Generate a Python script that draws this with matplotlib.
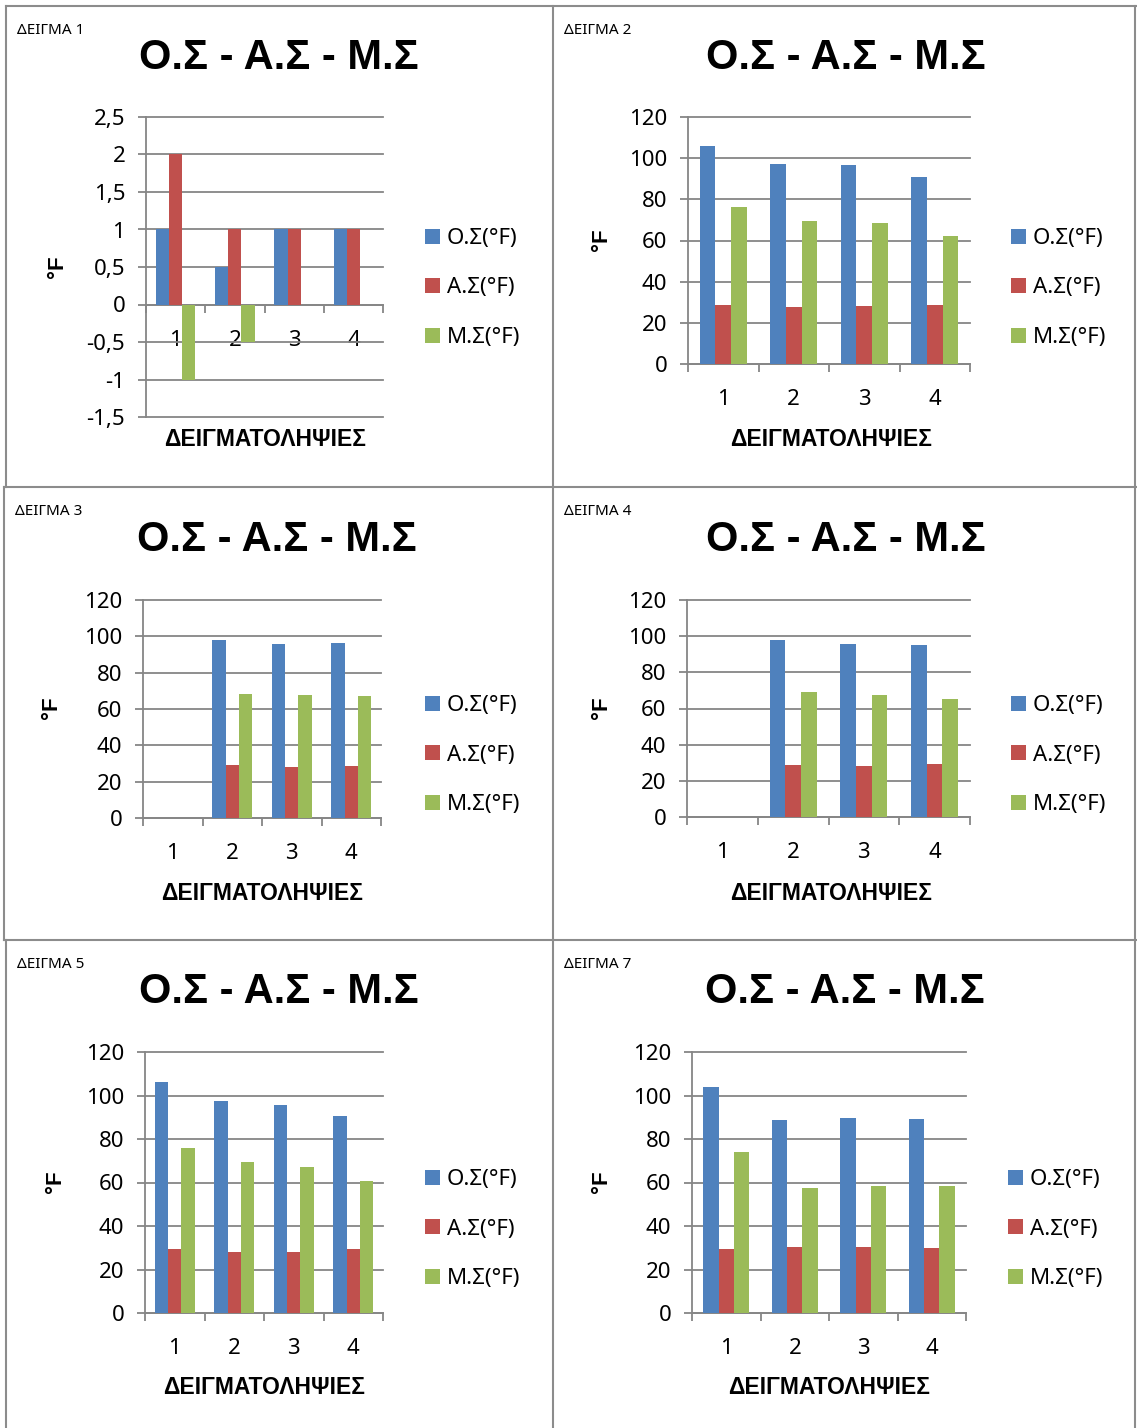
import matplotlib.pyplot as plt
import numpy as np
from matplotlib.lines import Line2D
from matplotlib.ticker import FuncFormatter

plt.rcParams['font.family'] = ['Noto Sans', 'DejaVu Sans']
BOLD = ['Liberation Sans', 'DejaVu Sans']
NARROW = ['Liberation Sans Narrow', 'Noto Sans', 'DejaVu Sans']

W, H = 1137, 1428

samples = ['1', '2', '3', '4']
series = ['Ο.Σ(°F)', 'Α.Σ(°F)', 'Μ.Σ(°F)']
colors = ['#4F81BD', '#C0504D', '#9BBB59']
title = 'Ο.Σ - Α.Σ - Μ.Σ'
xlab = 'ΔΕΙΓΜΑΤΟΛΗΨΙΕΣ'
ylab = '°F'

# values (sample 1 missing in 3 and 4)
os_1 = [1, 0.5, 1, 1]
as_1 = [2, 1, 1, 1]
ms_1 = [-1, -0.5, 0, 0]

os_2 = [105.8, 97.4, 96.7, 91.0]
as_2 = [28.8, 27.5, 28.0, 28.5]
ms_2 = [76.5, 69.5, 68.4, 62.3]

os_3 = [0, 98.0, 95.8, 96.4]
as_3 = [0, 29.4, 27.9, 28.8]
ms_3 = [0, 68.3, 67.9, 67.2]

os_4 = [0, 97.9, 95.7, 94.9]
as_4 = [0, 28.8, 28.2, 29.1]
ms_4 = [0, 68.9, 67.3, 65.4]

os_5 = [106.0, 97.7, 95.7, 90.8]
as_5 = [29.5, 28.2, 28.0, 29.2]
ms_5 = [75.8, 69.2, 67.2, 60.9]

os_7 = [104.0, 88.6, 89.5, 89.1]
as_7 = [29.5, 30.5, 30.5, 30.0]
ms_7 = [74.0, 57.7, 58.6, 58.6]

panels = [
    ('ΔΕΙΓΜΑ 1', (os_1, as_1, ms_1), (-1.5, 2.5, 0.5)),
    ('ΔΕΙΓΜΑ 2', (os_2, as_2, ms_2), (0, 120, 20)),
    ('ΔΕΙΓΜΑ 3', (os_3, as_3, ms_3), (0, 120, 20)),
    ('ΔΕΙΓΜΑ 4', (os_4, as_4, ms_4), (0, 120, 20)),
    ('ΔΕΙΓΜΑ 5', (os_5, as_5, ms_5), (0, 120, 20)),
    ('ΔΕΙΓΜΑ 7', (os_7, as_7, ms_7), (0, 120, 20)),
]

# pixel layout: axes (l, r, t, b), legend left/center y, title, tag, xlabel, ylabel
layout = [
    dict(ax=(146, 383, 117, 417), leg=(425, 288), tit=(279, 58), tag=(17, 30), xl=(265, 439), yl=(57, 267)),
    dict(ax=(688, 970, 117, 364), leg=(1011, 288), tit=(846, 58), tag=(564, 30), xl=(831, 439), yl=(601, 240)),
    dict(ax=(143, 381, 600, 818), leg=(425, 755), tit=(277, 540), tag=(15, 511), xl=(262, 893), yl=(52, 708)),
    dict(ax=(687, 970, 600, 817), leg=(1011, 755), tit=(846, 540), tag=(564, 511), xl=(831, 893), yl=(601, 708)),
    dict(ax=(145, 383, 1052, 1313), leg=(425, 1229), tit=(279, 992), tag=(17, 965), xl=(264, 1388), yl=(55, 1182)),
    dict(ax=(692, 966, 1052, 1313), leg=(1008, 1229), tit=(845, 992), tag=(564, 965), xl=(829, 1388), yl=(601, 1182)),
]


def fx(px):
    return px / W


def fy(py):
    return 1 - py / H


fig = plt.figure(figsize=(W / 100, H / 100), dpi=100)
grey = '#868686'

for (tag, vals, (lo, hi, step)), lay in zip(panels, layout):
    l, r, t, b = lay['ax']
    ax = fig.add_axes([fx(l), fy(b), (r - l) / W, (b - t) / H])
    x = np.arange(len(samples))
    w = 0.222
    for i, (v, c, lab) in enumerate(zip(vals, colors, series)):
        ax.bar(x + (i - 1) * w, v, w, color=c, label=lab, zorder=3)
    ax.set_xlim(-0.5, len(samples) - 0.5)
    ax.set_ylim(lo, hi)
    ax.set_yticks(np.arange(lo, hi + step / 2, step))
    ax.yaxis.set_major_formatter(FuncFormatter(lambda v, p: f'{v:g}'.replace('.', ',')))
    ax.grid(axis='y', color=grey, lw=1.3, zorder=0)
    for gl in ax.get_ygridlines():
        gl.set_clip_on(False)
    ax.set_axisbelow(True)
    for s in ['top', 'right']:
        ax.spines[s].set_visible(False)
    ax.spines['left'].set_color(grey)
    ax.spines['left'].set_linewidth(1.3)
    ax.spines['bottom'].set_color(grey)
    ax.spines['bottom'].set_linewidth(1.3)
    ax.spines['bottom'].set_position(('data', 0))
    ax.set_xticks(x)
    ax.set_xticklabels(samples)
    ax.set_xticks(np.arange(-0.5, len(samples)), minor=True)
    ax.tick_params(axis='x', which='major', length=0, pad=18, labelsize=16)
    ax.tick_params(axis='x', which='minor', length=6, width=1.3, color=grey, direction='out')
    ax.tick_params(axis='y', length=6, width=1.3, color=grey, direction='out', pad=9, labelsize=16)

    ax.legend(loc='center left', bbox_to_anchor=(fx(lay['leg'][0]), fy(lay['leg'][1])),
              bbox_transform=fig.transFigure, frameon=False, fontsize=16,
              handlelength=0.68, handleheight=0.68, handletextpad=0.3,
              labelspacing=1.28, borderpad=0, borderaxespad=0)

    fig.text(fx(lay['tit'][0]), fy(lay['tit'][1]), title, ha='center', va='center',
             fontsize=30, fontweight='bold', family=BOLD)
    fig.text(fx(lay['tag'][0]), fy(lay['tag'][1]), tag, ha='left', va='center',
             fontsize=11, family=NARROW)
    fig.text(fx(lay['xl'][0]), fy(lay['xl'][1]), xlab, ha='center', va='center',
             fontsize=16.5, fontweight='bold', family=BOLD)
    fig.text(fx(lay['yl'][0]), fy(lay['yl'][1]), ylab, ha='center', va='center',
             fontsize=16, fontweight='bold', rotation=90, family=BOLD)

# panel borders
border = '#8c8c8c'
segs = [
    ((6, 1137), (6, 6)), ((4, 1137), (487, 487)), ((4, 1137), (940, 940)),
    ((6, 6), (6, 487)), ((4, 4), (487, 940)), ((6, 6), (940, 1428)),
    ((553, 553), (6, 1428)), ((1135, 1135), (6, 1428)),
]
for xs, ys in segs:
    fig.add_artist(Line2D([fx(v) for v in xs], [fy(v) for v in ys], color=border, lw=1.5,
                          transform=fig.transFigure))

fig.savefig('out.png', dpi=100)
